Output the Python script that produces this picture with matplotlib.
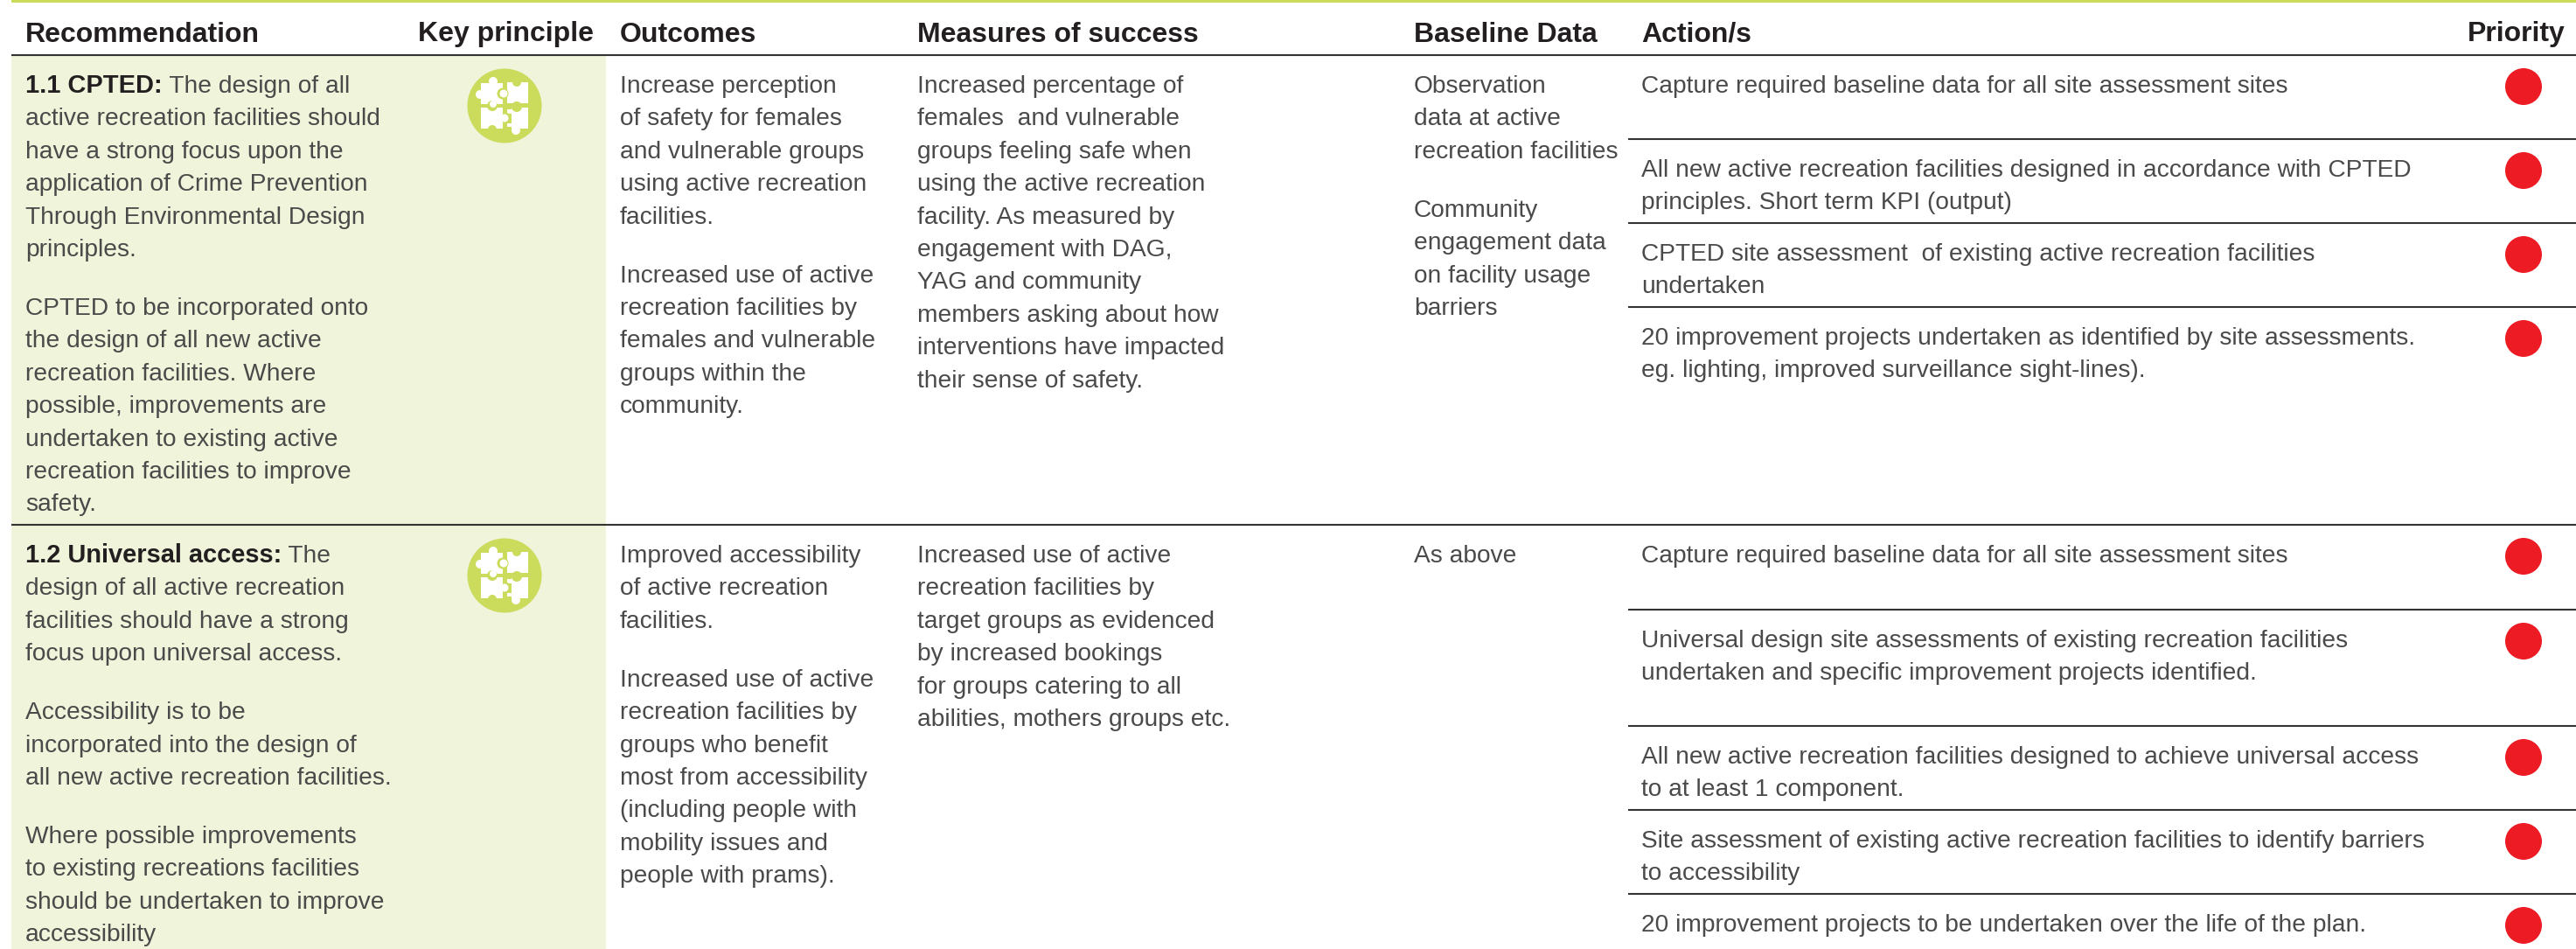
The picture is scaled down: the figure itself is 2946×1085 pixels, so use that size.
import matplotlib
matplotlib.use("Agg")
import matplotlib.pyplot as plt
from matplotlib.patches import Rectangle, Circle

HEADERS = ["Recommendation", "Key principle", "Outcomes", "Measures of success", "Baseline Data", "Action/s", "Priority"]

REC_LEADS = ["1.1 CPTED:", "1.2 Universal access:"]
REC_1 = [" The design of all", "active recreation facilities should", "have a strong focus upon the",
         "application of Crime Prevention", "Through Environmental Design", "principles.", "",
         "CPTED to be incorporated onto", "the design of all new active", "recreation facilities. Where",
         "possible, improvements are", "undertaken to existing active", "recreation facilities to improve", "safety."]
REC_2 = [" The", "design of all active recreation", "facilities should have a strong", "focus upon universal access.", "",
         "Accessibility is to be", "incorporated into the design of", "all new active recreation facilities.", "",
         "Where possible improvements", "to existing recreations facilities", "should be undertaken to improve", "accessibility"]
OUTCOMES_1 = ["Increase perception", "of safety for females", "and vulnerable groups", "using active recreation", "facilities.", "",
              "Increased use of active", "recreation facilities by", "females and vulnerable", "groups within the", "community."]
OUTCOMES_2 = ["Improved accessibility", "of active recreation", "facilities.", "",
              "Increased use of active", "recreation facilities by", "groups who benefit", "most from accessibility",
              "(including people with", "mobility issues and", "people with prams)."]
MEASURES_1 = ["Increased percentage of", "females  and vulnerable", "groups feeling safe when", "using the active recreation",
              "facility. As measured by", "engagement with DAG,", "YAG and community", "members asking about how",
              "interventions have impacted", "their sense of safety."]
MEASURES_2 = ["Increased use of active", "recreation facilities by", "target groups as evidenced", "by increased bookings",
              "for groups catering to all", "abilities, mothers groups etc."]
BASELINE_1 = ["Observation", "data at active", "recreation facilities", "", "Community", "engagement data", "on facility usage", "barriers"]
BASELINE_2 = ["As above"]
ACTIONS_1 = [["Capture required baseline data for all site assessment sites"],
             ["All new active recreation facilities designed in accordance with CPTED", "principles. Short term KPI (output)"],
             ["CPTED site assessment  of existing active recreation facilities", "undertaken"],
             ["20 improvement projects undertaken as identified by site assessments.", "eg. lighting, improved surveillance sight-lines)."]]
ACTIONS_2 = [["Capture required baseline data for all site assessment sites"],
             ["Universal design site assessments of existing recreation facilities", "undertaken and specific improvement projects identified."],
             ["All new active recreation facilities designed to achieve universal access", "to at least 1 component."],
             ["Site assessment of existing active recreation facilities to identify barriers", "to accessibility"],
             ["20 improvement projects to be undertaken over the life of the plan."]]
PRIORITY_1 = ["high", "high", "high", "high"]
PRIORITY_2 = ["high", "high", "high", "high", "high"]

W, H = 2946, 1085
fig = plt.figure(figsize=(W / 100, H / 100), dpi=100, facecolor="white")
ax = fig.add_axes([0, 0, 1, 1])
ax.set_xlim(0, W)
ax.set_ylim(H, 0)
ax.axis("off")

BODY = dict(family="Liberation Sans", fontsize=20.25, color="#4a4a4a")
BOLD = dict(family="Liberation Sans", weight="bold", fontsize=23.0, color="#231f20")
HEAD_X = [29, 478, 709, 1049, 1617, 1877, 2822]
GREEN, PALE, RED, RULE = "#cbdb5c", "#f0f4da", "#ed1c24", "#333333"
PITCH, GAP = 37.4, 67


def block(x, y, lines):
    for ln in lines:
        if ln == "":
            y += GAP - PITCH
            continue
        ax.text(x, y, ln, va="baseline", ha="left", **BODY)
        y += PITCH


def rec_block(x, y, lead, lines):
    t = ax.text(x, y, lead, va="baseline", ha="left", **{**BOLD, "fontsize": 20.9})
    fig.canvas.draw()
    ext = t.get_window_extent()
    ax.text(ext.x1, y, lines[0], va="baseline", ha="left", **BODY)
    block(x, y + PITCH, lines[1:])


def icon(cx, cy):
    ax.add_patch(Circle((cx, cy), 42.5, fc=GREEN, ec="none", zorder=2))
    rects = [(-27, -26, 25, 24), (3, -27, 24, 24), (-27, 2, 25, 24), (8, 2, 19, 24), (3, 4, 6, 5), (3, 20, 6, 4)]
    notches = [(-2, -14, 6.5), (14, -27, 5), (-14, 0, 6), (-14, 27, 5), (14, 1, 6), (2, 14, 6)]
    knobs = [(-13, -28, 5), (-28, -13, 5), (-13, -2, 4), (-1, -14, 4.5), (0, 14, 4.5), (13, 28, 5)]
    for x, y, w, h in rects:
        ax.add_patch(Rectangle((cx + x, cy + y), w, h, fc="white", ec="none", zorder=3))
    for x, y, r in notches:
        ax.add_patch(Circle((cx + x, cy + y), r, fc=GREEN, ec="none", zorder=4))
    for x, y, r in knobs:
        ax.add_patch(Circle((cx + x, cy + y), r, fc="white", ec="none", zorder=5))


def actions(rows, rules, prios):
    for lines, r, p in zip(rows, rules, prios):
        block(1877, r + 43, lines)
        if p == "high":
            ax.add_patch(Circle((2886, r + 36), 21, fc=RED, ec="none", zorder=3))


ax.add_patch(Rectangle((13, 0), W - 13, 2.5, fc=GREEN, ec="none"))
ax.add_patch(Rectangle((13, 63), 680, H - 63, fc=PALE, ec="none"))

for y in (63, 600):
    ax.plot([13, W], [y, y], color=RULE, lw=1.5, solid_capstyle="butt", zorder=5)
RULES_1 = [63, 159, 255, 351]
RULES_2 = [600, 697, 830, 926, 1022]
for y in RULES_1[1:] + RULES_2[1:]:
    ax.plot([1862, W], [y, y], color=RULE, lw=1.5, solid_capstyle="butt", zorder=5)

for x, h in zip(HEAD_X, HEADERS):
    ax.text(x, 47.5, h, va="baseline", ha="left", **BOLD)

rec_block(29, 106, REC_LEADS[0], REC_1)
rec_block(29, 643, REC_LEADS[1], REC_2)
block(709, 106, OUTCOMES_1)
block(709, 643, OUTCOMES_2)
block(1049, 106, MEASURES_1)
block(1049, 643, MEASURES_2)
block(1617, 106, BASELINE_1)
block(1617, 643, BASELINE_2)
actions(ACTIONS_1, RULES_1, PRIORITY_1)
actions(ACTIONS_2, RULES_2, PRIORITY_2)
icon(577, 121)
icon(577, 658)

fig.savefig("out.png", dpi=100, facecolor="white")
